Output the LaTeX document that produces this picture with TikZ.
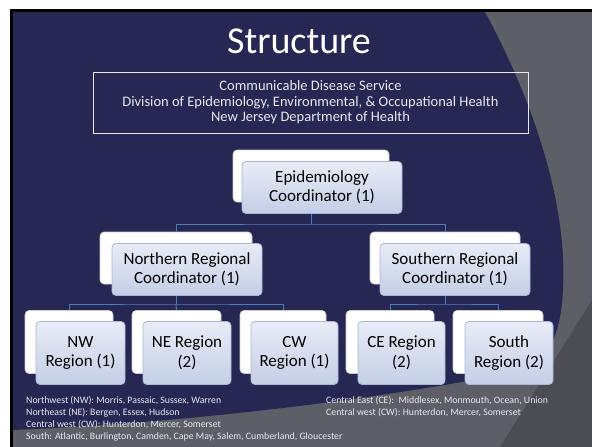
\documentclass[tikz,border=0pt]{standalone}
\usepackage{fontspec}
\setmainfont{Carlito}
\usetikzlibrary{calc}
\definecolor{navy}{HTML}{262853}
\definecolor{slategray}{HTML}{5E5F66}
\definecolor{darkgray2}{HTML}{4C4D53}
\definecolor{connblue}{HTML}{4A7EBB}
\definecolor{boxtop}{HTML}{E8ECF7}
\definecolor{boxbot}{HTML}{C4CEE6}
\definecolor{boxedge}{HTML}{A9B7D6}
\definecolor{paletext}{HTML}{E8E8F0}
\tikzset{
  backbox/.style={draw=gray!40, fill=white, rounded corners=4pt, line width=0.6pt, inner sep=0pt},
  frontbox/.style={draw=boxedge, top color=boxtop, bottom color=boxbot, rounded corners=4pt, line width=0.8pt, inner sep=0pt, align=center, text=black, font=\fontsize{17}{19.5}\selectfont},
  conn/.style={draw=connblue, line width=1pt},
  infotext/.style={text=paletext, align=center, font=\fontsize{14.5}{15.5}\selectfont},
  foot/.style={text=paletext, align=left, inner sep=0pt, anchor=north west, font=\fontsize{9.8}{12}\selectfont}
}
\begin{document}
\begin{tikzpicture}[x=1pt,y=-1pt]
\useasboundingbox (0,0) rectangle (592,447);
\fill[white] (0,0) rectangle (592,447);
\fill[black] (10,9) rectangle (592,447);
\fill[slategray] (13,12) rectangle (592,447);
\fill[darkgray2] (500,447) -- (592,300) -- (592,447) -- cycle;
\fill[navy] (13,12) -- (485,12) .. controls (530,95) and (568,200) .. (563,290)
  .. controls (560,345) and (545,365) .. (500,375)
  .. controls (380,398) and (200,422) .. (13,430) -- cycle;
% title
\node[text=white, font=\fontsize{38}{40}\selectfont, anchor=base] (title) at (299,53) {Structure};
% info box
\node[draw=paletext, line width=0.7pt, minimum width=435pt, minimum height=61pt, inner sep=0pt, infotext] (info) at (310.5,102.5)
  {Communicable Disease Service\\Division of Epidemiology, Environmental, \& Occupational Health\\New Jersey Department of Health};
% back boxes
\node[backbox, minimum width=156pt, minimum height=52pt] (eb) at (311,176) {};
\node[backbox, minimum width=152pt, minimum height=52pt] (nb) at (176,258) {};
\node[backbox, minimum width=150pt, minimum height=52pt] (sb) at (445,258) {};
\node[backbox, minimum width=88pt, minimum height=63pt] (nwb) at (69,342) {};
\node[backbox, minimum width=89pt, minimum height=63pt] (neb) at (176.5,342) {};
\node[backbox, minimum width=86pt, minimum height=63pt] (cwb) at (283,342) {};
\node[backbox, minimum width=88pt, minimum height=63pt] (ceb) at (390,342) {};
\node[backbox, minimum width=90pt, minimum height=63pt] (stb) at (498,342) {};
% connectors
\coordinate (j1) at (311,224);
\coordinate (j2) at (176,304);
\coordinate (j3) at (445,304);
\draw[conn] (eb.south) -- (j1);
\draw[conn] (nb.north) |- (j1) -| (sb.north);
\draw[conn] (nb.south) -- (j2);
\draw[conn] (nwb.north) |- (j2) -| (cwb.north);
\draw[conn] (neb.north) -- (j2);
\draw[conn] (sb.south) -- (j3);
\draw[conn] (ceb.north) |- (j3) -| (stb.north);
% front boxes
\node[frontbox, minimum width=160pt, minimum height=52pt] (ef) at (322,187.5) {Epidemiology\\Coordinator (1)};
\node[frontbox, minimum width=150pt, minimum height=52pt] (nf) at (187,269.5) {Northern Regional\\Coordinator (1)};
\node[frontbox, minimum width=150pt, minimum height=52pt] (sf) at (455,269.5) {Southern Regional\\Coordinator (1)};
\node[frontbox, minimum width=89pt, minimum height=63pt] (nwf) at (80.5,353) {NW\\Region (1)};
\node[frontbox, minimum width=88pt, minimum height=63pt] (nef) at (187,353) {NE Region\\(2)};
\node[frontbox, minimum width=87pt, minimum height=63pt] (cwf) at (294.5,353) {CW\\Region (1)};
\node[frontbox, minimum width=87pt, minimum height=63pt] (cef) at (401.5,353) {CE Region\\(2)};
\node[frontbox, minimum width=88pt, minimum height=63pt] (stf) at (509,353) {South\\Region (2)};
% footnotes
\node[foot] (lfoot) at (26,396) {Northwest (NW): Morris, Passaic, Sussex, Warren\\Northeast (NE): Bergen, Essex, Hudson\\Central west (CW): Hunterdon, Mercer, Somerset\\South: Atlantic, Burlington, Camden, Cape May, Salem, Cumberland, Gloucester};
\node[foot] (rfoot) at (326,396) {Central East (CE):\ \ Middlesex, Monmouth, Ocean, Union\\Central west (CW): Hunterdon, Mercer, Somerset};
\end{tikzpicture}
\end{document}
